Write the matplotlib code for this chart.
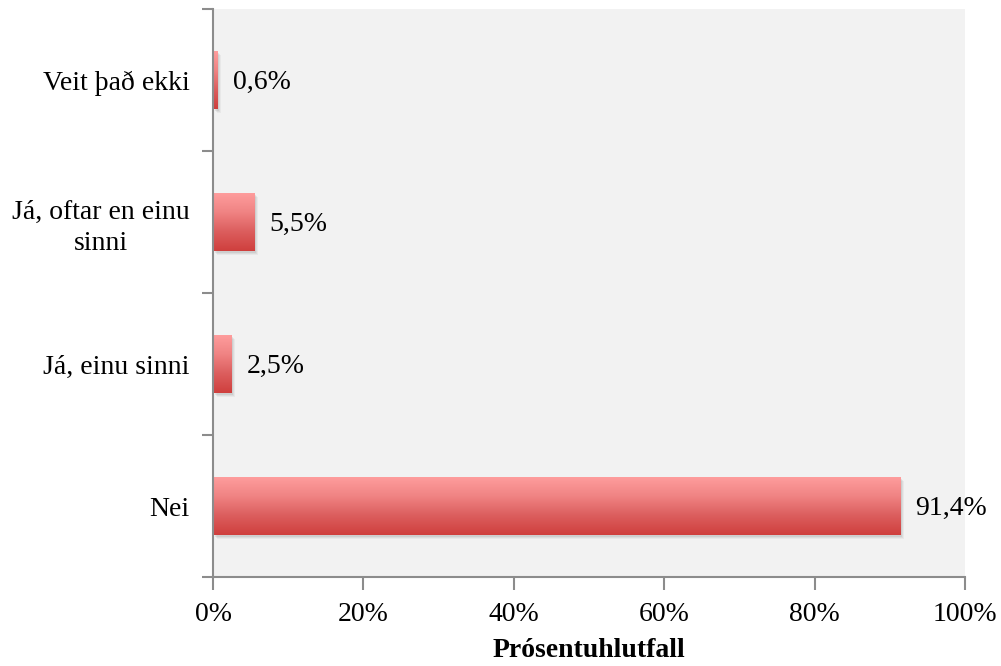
import matplotlib
matplotlib.use("Agg")
import matplotlib.pyplot as plt
import numpy as np
from matplotlib.colors import LinearSegmentedColormap
from matplotlib.patches import Rectangle
import matplotlib.transforms as mtransforms

categories = ["Nei", "Já, einu sinni", "Já, oftar en einu\nsinni", "Veit það ekki"]
values = [91.4, 2.5, 5.5, 0.6]
value_labels = ["91,4%", "2,5%", "5,5%", "0,6%"]
x_ticks = [0, 20, 40, 60, 80, 100]
x_tick_labels = ["0%", "20%", "40%", "60%", "80%", "100%"]
x_title = "Prósentuhlutfall"

plt.rcParams['font.family'] = ['Liberation Serif', 'DejaVu Serif']
FS = 20

fig = plt.figure(figsize=(10.01, 6.66), dpi=100)
ax = fig.add_axes([213 / 1001, 1 - 577 / 666, (965 - 213) / 1001, (577 - 9) / 666])
ax.set_facecolor("#f2f2f2")

bar_h = 0.41
cmap = LinearSegmentedColormap.from_list("barfill", ["#cf3f3d", "#dc5e5e", "#f08484", "#ff9e9e"])
grad = np.linspace(0, 1, 256).reshape(-1, 1)

ax.set_xlim(0, 100)
ax.set_ylim(-0.5, len(categories) - 0.5)

for i, v in enumerate(values):
    y0 = i - bar_h / 2
    # soft drop shadow
    for k, a in enumerate([0.10, 0.08, 0.06]):
        off = mtransforms.offset_copy(ax.transData, fig=fig, x=1.5 + k, y=-(2 + k), units="dots")
        ax.add_patch(Rectangle((0, y0), v, bar_h, facecolor="#555555", alpha=a,
                               edgecolor="none", transform=off, zorder=1))
    rect = Rectangle((0, y0), v, bar_h, facecolor="none", edgecolor="none", zorder=2)
    ax.add_patch(rect)
    im = ax.imshow(grad, cmap=cmap, aspect="auto", origin="lower",
                   extent=(0, v, y0, y0 + bar_h), zorder=2, interpolation="bilinear")
    im.set_clip_path(rect)
    lab_off = mtransforms.offset_copy(ax.transData, fig=fig, x=15, y=-2, units="dots")
    ax.text(v, i, value_labels[i], transform=lab_off, ha="left", va="center",
            fontsize=FS, color="#000000", zorder=3)

ax.set_xlim(0, 100)
ax.set_ylim(-0.5, len(categories) - 0.5)

for s in ["top", "right"]:
    ax.spines[s].set_visible(False)
for s in ["left", "bottom"]:
    ax.spines[s].set_color("#8c8c8c")
    ax.spines[s].set_linewidth(1.5)

ax.set_xticks(x_ticks)
ax.set_xticklabels(x_tick_labels, fontsize=FS, color="#000000")
ax.tick_params(axis="x", length=9, width=1.5, color="#8c8c8c", pad=9)

ax.set_yticks(range(len(categories)))
ax.set_yticklabels(categories, fontsize=FS, color="#000000", linespacing=1.3,
                   multialignment="center")
ax.tick_params(axis="y", which="major", length=0, pad=17)
ax.set_yticks(np.arange(-0.5, len(categories), 1.0), minor=True)
ax.tick_params(axis="y", which="minor", length=8, width=1.5, color="#8c8c8c")

ax.set_xlabel(x_title, fontsize=FS, fontweight="bold", color="#000000", labelpad=8)

fig.savefig("out.png", dpi=100)
